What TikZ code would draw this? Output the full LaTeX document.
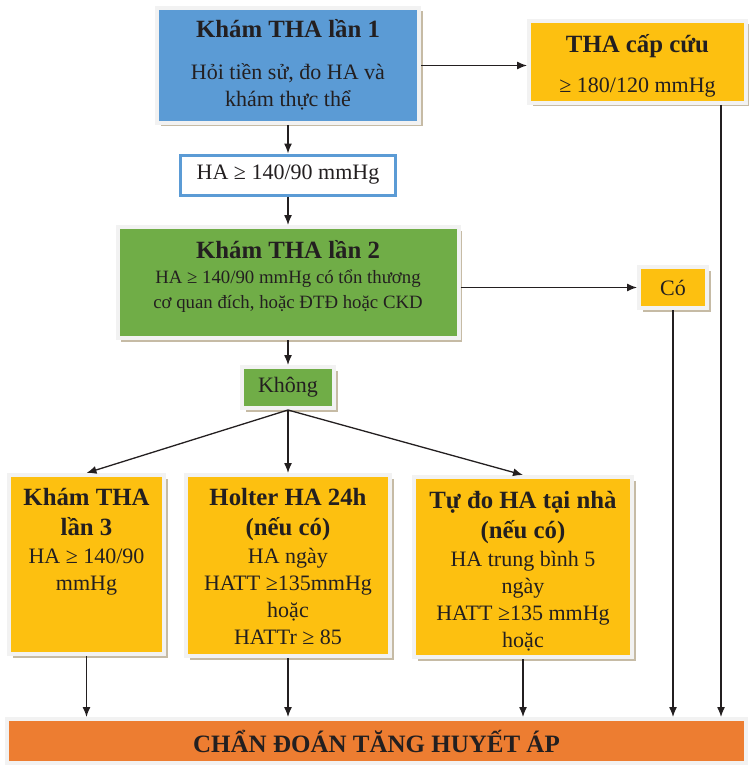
\documentclass[tikz,border=0pt]{standalone}
\usepackage{fontspec}
\setmainfont{Liberation Serif}
\usetikzlibrary{arrows.meta, shadows}
\definecolor{cBlue}{RGB}{91,155,213}
\definecolor{cYellow}{RGB}{253,192,16}
\definecolor{cGreen}{RGB}{112,173,71}
\definecolor{cOrange}{RGB}{237,125,49}
\definecolor{cFrame}{RGB}{242,242,242}
\definecolor{cShadow}{RGB}{198,187,165}
\definecolor{cInk}{RGB}{35,31,32}
\newcommand{\cardtitle}{\fontsize{24.8}{30}\selectfont\bfseries}
\newcommand{\cardbody}{\fontsize{22}{27}\selectfont}
% fixed-height text block, first baseline #3 below the top
\newcommand{\cardtext}[4]{\parbox[c][#1][t]{#2}{\centering\rule{0pt}{#3}#4}}
\tikzset{
	frame/.style ={rectangle, draw=cFrame, line width=4pt, text=cInk, inner sep=0pt, align=center},
	card/.style  ={frame, drop shadow={shadow xshift=3.5pt, shadow yshift=-3.5pt, fill=cShadow, opacity=1}},
	limit/.style ={rectangle, draw=cBlue, line width=3pt, fill=white, text=cInk, inner sep=0pt},
	arr/.style   ={-{Latex[length=10pt, width=8pt]}, line width=1.3pt, draw=cInk},
}
\begin{document}
\begin{tikzpicture}[x=1pt, y=-1pt, font=\cardbody]
	\useasboundingbox (0,0) rectangle (748,765);
	% top row
	\node[card, fill=cBlue, minimum width=262pt, minimum height=115pt] (visit1) at (288,65.5)
		{\cardtext{115pt}{250pt}{30pt}{{\cardtitle Khám THA lần 1\par}\vspace{14.5pt}Hỏi tiền sử, đo HA và\\ khám thực thể}};
	\node[card, fill=cYellow, minimum width=217pt, minimum height=82pt] (urgent) at (637.5,62)
		{\cardtext{82pt}{210pt}{32pt}{{\cardtitle THA cấp cứu\par}\vspace{12.5pt}≥ 180/120 mmHg}};
	\node[limit, minimum width=215pt, minimum height=40pt] (limit) at (288,175) {HA ≥ 140/90 mmHg};
	% second visit
	\node[card, fill=cGreen, minimum width=341pt, minimum height=111pt] (visit2) at (288,282.5)
		{\cardtext{111pt}{335pt}{31pt}{{\cardtitle Khám THA lần 2\par}{\fontsize{18.8}{25}\selectfont HA ≥ 140/90 mmHg có tổn thương\\ cơ quan đích, hoặc ĐTĐ hoặc CKD\par}}};
	\node[card, fill=cYellow, minimum width=68pt, minimum height=41pt] (yes) at (673,287.5) {Có};
	\node[card, fill=cGreen, minimum width=92pt, minimum height=41pt] (no) at (288,387.5) {Không};
	% bottom row
	\node[card, fill=cYellow, minimum width=155pt, minimum height=179pt] (visit3) at (86.5,564.5)
		{\cardtext{179pt}{150pt}{30pt}{{\cardtitle Khám THA\\ lần 3\par}\vspace{1.5pt}HA ≥ 140/90\\ mmHg}};
	\node[card, fill=cYellow, minimum width=204pt, minimum height=181pt] (holter) at (288,565.5)
		{\cardtext{181pt}{198pt}{30pt}{{\cardtitle Holter HA 24h\\ (nếu có)\par}\vspace{1.5pt}HA ngày\\ HATT ≥135mmHg\\ hoặc\\ HATTr ≥ 85}};
	\node[card, fill=cYellow, minimum width=218pt, minimum height=180pt] (home) at (523,567)
		{\cardtext{180pt}{212pt}{31pt}{{\cardtitle Tự đo HA tại nhà\\ (nếu có)\par}\vspace{1.5pt}HA trung bình 5\\ ngày\\ HATT ≥135 mmHg\\ hoặc}};
	\node[frame, fill=cOrange, minimum width=739pt, minimum height=44pt, font=\fontsize{25}{30}\selectfont\bfseries] (diag) at (376.5,741) {CHẨN ĐOÁN TĂNG HUYẾT ÁP};
	% connectors
	\draw[arr] (visit1.east) -- (visit1.east -| urgent.west);
	\draw[arr] (visit1.south) -- (limit.north);
	\draw[arr] (limit.south) -- (visit2.north);
	\draw[arr] (yes.west -| visit2.east) -- (yes.west);
	\draw[arr] (visit2.south) -- (no.north);
	\foreach \n in {visit3, holter, home}
		\draw[arr] (no.south) -- (\n.north);
	\foreach \n in {visit3, holter, home, yes}
		\draw[arr] (\n.south) -- (\n.south |- diag.north);
	\draw[arr] ([xshift=83.5pt]urgent.south) -- ([xshift=83.5pt]urgent.south |- diag.north);
\end{tikzpicture}
\end{document}
